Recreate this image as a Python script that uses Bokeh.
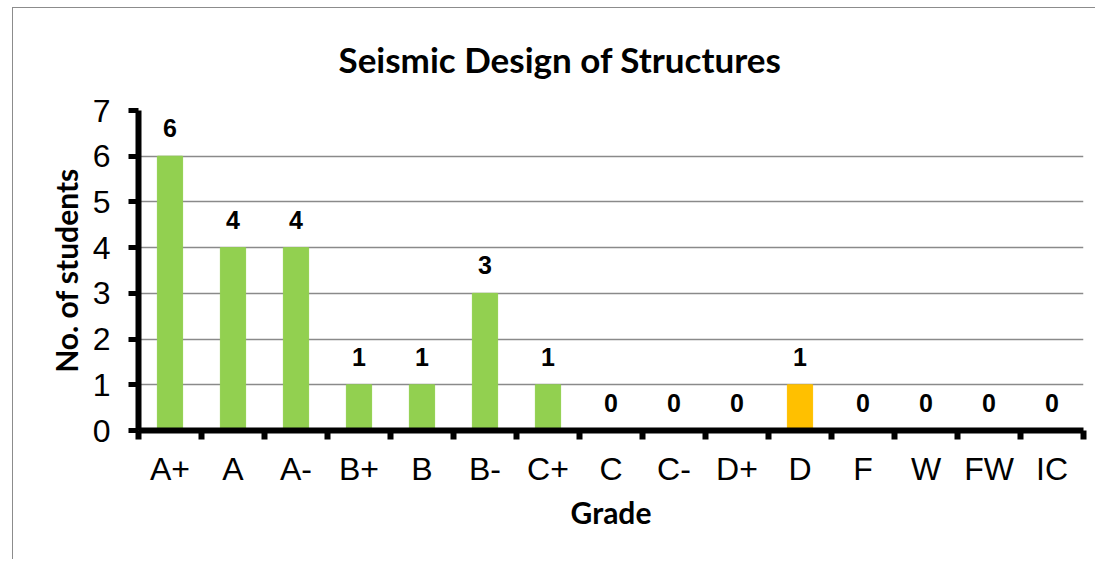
from bokeh.plotting import figure
from bokeh.models import FixedTicker, Range1d, ColumnDataSource
from bokeh.core.properties import value
from bokeh.embed import file_html
from bokeh.resources import INLINE

grades = ["A+", "A", "A-", "B+", "B", "B-", "C+", "C", "C-", "D+", "D", "F", "W", "FW", "IC"]
students = [6, 4, 4, 1, 1, 3, 1, 0, 0, 0, 1, 0, 0, 0, 0]
bar_colors = ["#92D050"] * 10 + ["#FFC000"] + ["#92D050"] * 4
y_ticks = [0, 1, 2, 3, 4, 5, 6, 7]

xs = [i + 0.5 for i in range(len(grades))]
src = ColumnDataSource(dict(x=xs, top=students, color=bar_colors,
                            label=[str(v) for v in students]))

p = figure(width=1083, height=552, output_backend="svg", toolbar_location=None,
           x_range=Range1d(0, len(grades)), y_range=Range1d(0, 7),
           min_border_left=125, min_border_right=13, min_border_top=102,
           min_border_bottom=130)
p.styles = {"margin-left": "13px", "margin-top": "8px",
            "box-shadow": "-1px -1px 0 0 #8c8c8c"}
p.outline_line_color = None

p.title.text = "Seismic Design of Structures"
p.title.align = "left"
p.title.offset = 200
p.title.vertical_align = "top"
p.title.text_font = "Lato"
p.title.text_font_style = "bold"
p.title.text_font_size = "35px"
p.title.text_color = "black"
p.title.standoff = 58

p.vbar(x="x", top="top", width=0.4, color="color", source=src)
p.text(x="x", y="top", text="label", source=src, text_align="center",
       text_baseline="alphabetic", y_offset=-28,
       text_font=value("Liberation Sans"), text_font_style="bold",
       text_font_size="25px", text_color="black")

# x axis: labels at category centers, ticks at category boundaries
p.xaxis.ticker = FixedTicker(ticks=xs, minor_ticks=list(range(len(grades) + 1)))
p.xaxis.major_label_overrides = {x: g for x, g in zip(xs, grades)}
p.xaxis.major_tick_line_color = None
p.xaxis.minor_tick_line_color = "black"
p.xaxis.minor_tick_line_width = 6
p.xaxis.minor_tick_out = 9
p.xaxis.minor_tick_in = 0
p.xaxis.axis_line_width = 6
p.xaxis.axis_line_color = "black"
p.xaxis.major_label_text_font = "Liberation Sans"
p.xaxis.major_label_text_font_size = "32px"
p.xaxis.major_label_text_color = "black"
p.xaxis.major_label_standoff = 11
p.xaxis.axis_label = "Grade"
p.xaxis.axis_label_text_font = "Lato"
p.xaxis.axis_label_text_font_style = "bold"
p.xaxis.axis_label_text_font_size = "30px"
p.xaxis.axis_label_text_color = "black"
p.xaxis.axis_label_standoff = 4

p.yaxis.ticker = FixedTicker(ticks=y_ticks)
p.yaxis.minor_tick_line_color = None
p.yaxis.major_tick_line_width = 5
p.yaxis.major_tick_out = 10
p.yaxis.major_tick_in = 0
p.yaxis.axis_line_width = 6
p.yaxis.axis_line_color = "black"
p.yaxis.major_label_text_font = "Liberation Sans"
p.yaxis.major_label_text_font_size = "32px"
p.yaxis.major_label_text_color = "black"
p.yaxis.major_label_standoff = 18
p.yaxis.axis_label = "No. of students"
p.yaxis.axis_label_text_font = "Lato"
p.yaxis.axis_label_text_font_style = "bold"
p.yaxis.axis_label_text_font_size = "30px"
p.yaxis.axis_label_text_color = "black"
p.yaxis.axis_label_standoff = 6

p.xgrid.grid_line_color = None
p.ygrid.ticker = FixedTicker(ticks=y_ticks)
p.ygrid.grid_line_color = "#8a8a8a"
p.ygrid.grid_line_width = 1.5

open("out.html", "w").write(file_html(p, INLINE))
